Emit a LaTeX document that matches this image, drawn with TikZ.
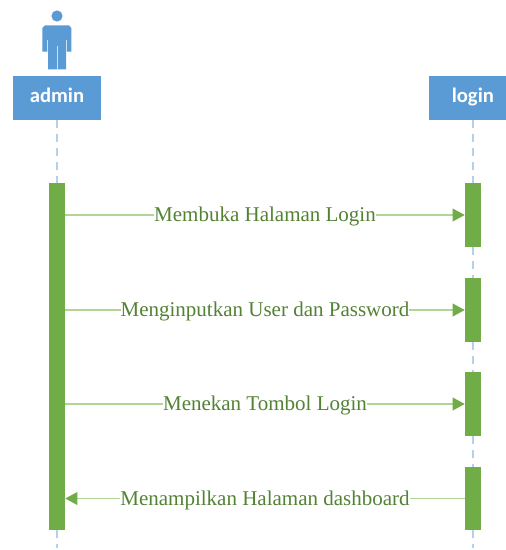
\documentclass[tikz,border=0pt]{standalone}
\usepackage{fontspec}
\setmainfont{Liberation Serif}
\newfontfamily\boxfont{Carlito}
\usetikzlibrary{arrows.meta}
\definecolor{blueb}{HTML}{5B9BD5}
\definecolor{bluel}{HTML}{B4D1EC}
\definecolor{greenb}{HTML}{70AD47}
\definecolor{greenl}{HTML}{B0D596}
\definecolor{greent}{HTML}{548235}
\tikzset{
  x=0.75pt,y=-0.75pt,
  headbox/.style={fill=blueb,draw=none,minimum height=33pt,inner sep=0pt,text=white,text height=10.5pt,text depth=3.2pt,font=\boxfont\bfseries\fontsize{15.5}{17}\selectfont},
  bar/.style={fill=greenb,draw=none,minimum width=12pt,inner sep=0pt},
  life/.style={draw=bluel,line width=1.4pt,dash pattern=on 6pt off 4.5pt},
  msg/.style={draw=greenl,line width=1.1pt,-{Triangle[length=9pt,width=9.5pt,fill=greenb,color=greenb]}},
  msglabel/.style={fill=white,inner sep=0pt,text=greent,yshift=-1.1pt,font=\fontsize{15.75}{18}\selectfont},
  figbody/.style={fill=blueb,draw=none},
  figline/.style={draw=white!70!blueb,line width=0.7pt}
}
\begin{document}
\begin{tikzpicture}
\useasboundingbox (0,0) rectangle (506,550);
\fill[white] (0,0) rectangle (506,550);
% actor figure
\fill[figbody] (57,16) circle[radius=4.2pt];
\fill[figbody] (45,25.3) -- (69,25.3) -- (71.3,28) -- (71.3,51.7) -- (66,51.7) -- (66,69.3) -- (48,69.3) -- (48,51.7) -- (42.3,51.7) -- (42.3,28) -- cycle;
\draw[figline] (47.5,40) -- (47.5,51.7);
\draw[figline] (66,40) -- (66,51.7);
\draw[figline] (57,46) -- (57,69.3);
% head boxes
\node[headbox,minimum width=66pt] (admin) at (57,98) {admin};
\node[headbox,minimum width=57.75pt] (login) at (467.5,98) {\hspace*{8pt}login};
% activation bars
\node[bar,minimum height=260.25pt] (aBar) at (57,356.5) {};
\node[bar,minimum height=48pt] (lA) at (473,215) {};
\node[bar,minimum height=48pt] (lB) at (473,310) {};
\node[bar,minimum height=48pt] (lC) at (473,404) {};
\node[bar,minimum height=47.25pt] (lD) at (473,498.5) {};
% lifeline ends
\coordinate (aEnd) at (57,548);
\coordinate (lEnd) at (473,548);
\coordinate (lTop) at (473,120);
\draw[life] (admin.south) -- (aBar.north);
\draw[life] (aBar.south) -- (aEnd);
\draw[life] (lTop) -- (lA.north);
\draw[life] (lA.south) -- (lB.north);
\draw[life] (lB.south) -- (lC.north);
\draw[life] (lC.south) -- (lD.north);
\draw[life] (lD.south) -- (lEnd);
% messages
\draw[msg] (aBar.east |- lA.west) -- (lA.west) node[midway,msglabel] (m1) {Membuka Halaman Login};
\draw[msg] (aBar.east |- lB.west) -- (lB.west) node[midway,msglabel] (m2) {Menginputkan User dan Password};
\draw[msg] (aBar.east |- lC.west) -- (lC.west) node[midway,msglabel] (m3) {Menekan Tombol Login};
\draw[msg] (lD.west) -- (aBar.east |- lD.west) node[midway,msglabel] (m4) {Menampilkan Halaman dashboard};
\end{tikzpicture}
\end{document}
